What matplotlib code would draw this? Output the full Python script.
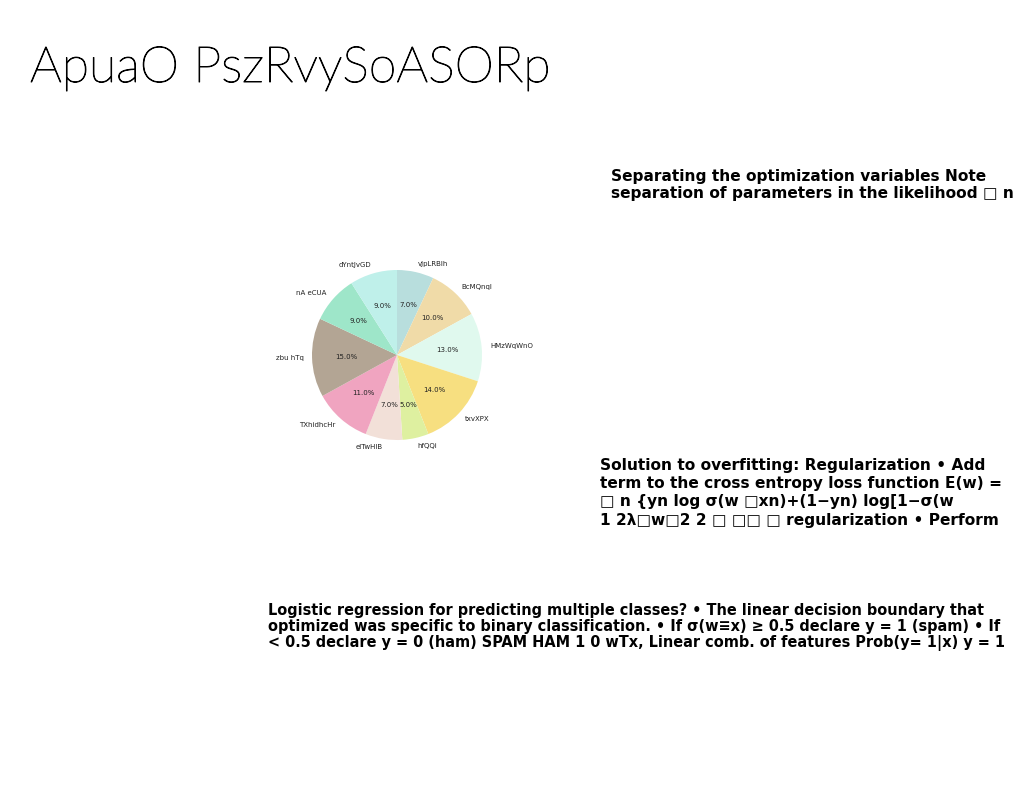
import matplotlib
matplotlib.use('Agg')
import matplotlib.pyplot as plt
import matplotlib.patheffects as pe

# pie data, clockwise from 12 o'clock
labels = ['vJpLRBlh', 'BcMQnql', 'HMzWqWnO', 'txvXPX', 'hfQQi',
          'elTwHIB', 'TXhidhcHr', 'zbu hTq', 'nA eCUA', 'dYntJvGD']
shares = [7, 10, 13, 14, 5, 7, 11, 15, 9, 9]
slice_colors = ['#b8dedd', '#f0dba8', '#e0f9ee', '#f7df80', '#def0a0',
                '#f2e0d8', '#f0a4c0', '#b3a594', '#9ee6c9', '#bff0ea']

title = 'ApuaO PszRvySoASORp'
block1 = ['Separating the optimization variables Note',
          'separation of parameters in the likelihood \u25a1 n']
block2 = ['Solution to overfitting: Regularization \u2022 Add',
          'term to the cross entropy loss function E(w) =',
          '\u25a1 n {yn log \u03c3(w \u25a1xn)+(1\u2212yn) log[1\u2212\u03c3(w',
          '1 2\u03bb\u25a1w\u25a12 2 \u25a1 \u25a1\u25a1 \u25a1 regularization \u2022 Perform']
block3 = ['Logistic regression for predicting multiple classes? \u2022 The linear decision boundary that',
          'optimized was specific to binary classification. \u2022 If \u03c3(w\u2261x) \u2265 0.5 declare y = 1 (spam) \u2022 If',
          '< 0.5 declare y = 0 (ham) SPAM HAM 1 0 wTx, Linear comb. of features Prob(y= 1|x) y = 1']

W, H = 1024, 788
fig = plt.figure(figsize=(W / 100, H / 100), dpi=100)

fig.text(30 / W, 1 - 82 / H, title, fontsize=36, family=['Lato', 'DejaVu Sans'],
         fontweight='light', color='black', va='baseline', ha='left',
         path_effects=[pe.withStroke(linewidth=0.7, foreground='black')])

# pie: centre (397, 355) px, radius 85 px; pie sets limits to +-1.25
cx, cy, r = 397, 355, 85
side = 2.5 * r
ax = fig.add_axes([(cx - side / 2) / W, (H - cy - side / 2) / H, side / W, side / H])
ax.pie(shares, labels=labels, colors=slice_colors, autopct='%1.1f%%',
       startangle=90, counterclock=False,
       textprops={'fontsize': 5, 'color': '#222222'})
ax.set_aspect('equal')

fig.text(611 / W, 1 - 169 / H, '\n'.join(block1), fontsize=11.1, fontweight='bold',
         family='DejaVu Sans', va='top', ha='left', linespacing=1.2)
fig.text(600 / W, 1 - 458 / H, '\n'.join(block2), fontsize=11.1, fontweight='bold',
         family='DejaVu Sans', va='top', ha='left', linespacing=1.27)
fig.text(268 / W, 1 - 603 / H, '\n'.join(block3), fontsize=11.6, fontweight='heavy',
         family='DejaVu Sans', fontstretch='condensed', va='top', ha='left',
         linespacing=1.1)

fig.savefig('out.png', dpi=100)
